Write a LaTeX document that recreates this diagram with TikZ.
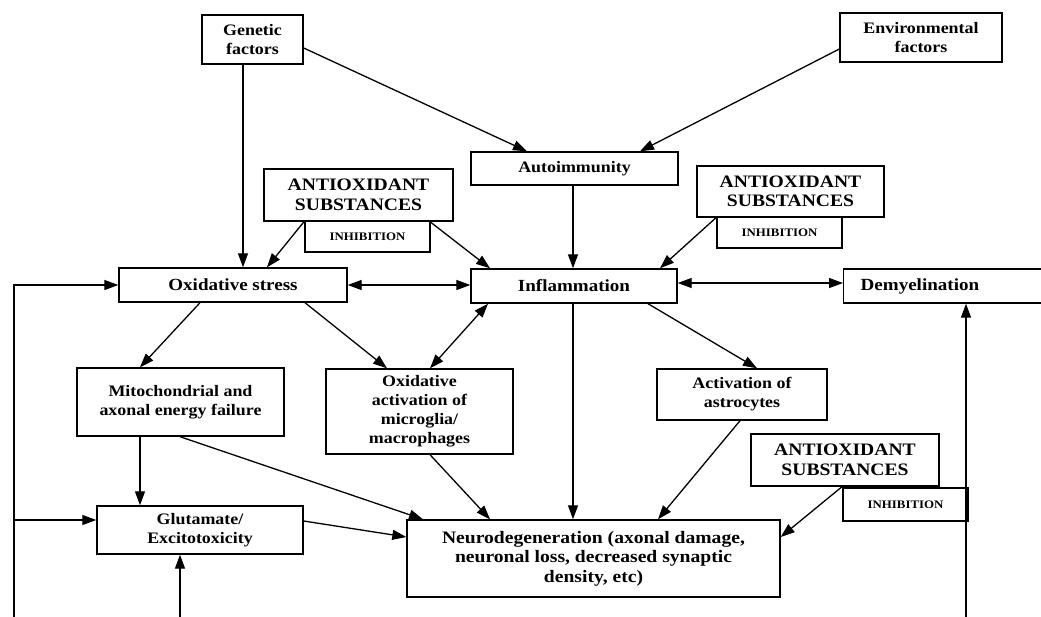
\documentclass[tikz,border=0pt]{standalone}
\usepackage{fontspec}
\setmainfont{Liberation Serif}[FakeStretch=1.12]
\usetikzlibrary{arrows.meta}
\tikzset{
  tri/.tip={Triangle[length=14pt,width=10pt]},
  sz/.style 2 args={minimum width=#1pt, minimum height=#2pt},
  box/.style={draw, line width=1.4pt, fill=white, align=center, inner sep=2pt,
    font=\bfseries\fontsize{16}{19}\selectfont},
  midbox/.style={box, font=\bfseries\fontsize{17}{19}\selectfont},
  bigbox/.style={box, font=\bfseries\fontsize{17.5}{19.5}\selectfont},
  smallbox/.style={box, font=\bfseries\fontsize{11.5}{13}\selectfont},
  link/.style={line width=1.3pt, -tri},
  twoway/.style={tri-tri},
}
\begin{document}
\begin{tikzpicture}[x=1pt,y=-1pt]
  \clip (0,0) rectangle (1041,616);
  \fill[white] (0,0) rectangle (1041,616);
  \path
    (252.5,39.5) node[box, sz={101}{49}] (gen) {Genetic\\factors}
    (921,37.5) node[box, sz={162}{49}] (env) {Environmental\\factors}
    (574.5,168.5) node[box, sz={207}{33}] (auto) {Autoimmunity}
    (358.5,195) node[bigbox, sz={189}{52}] (anti1) {ANTIOXIDANT\\SUBSTANCES}
    (367.5,236.5) node[smallbox, sz={125}{31}] (inh1) {INHIBITION}
    (790.5,191.5) node[bigbox, sz={187}{51}] (anti2) {ANTIOXIDANT\\SUBSTANCES}
    (779.5,232.5) node[smallbox, sz={125}{31}] (inh2) {INHIBITION}
    (233,285) node[midbox, sz={228}{34}] (oxs) {Oxidative stress}
    (574,286) node[midbox, sz={206}{34}] (infl) {Inflammation}
    (843,286) node[midbox, anchor=west, sz={224}{34}, text width=190pt, align=left, inner xsep=17pt] (demy) {Demyelination}
    (180.5,402) node[box, sz={207}{68}] (mito) {Mitochondrial and\\axonal energy failure}
    (419.5,411.5) node[box, sz={187}{85}] (oxact) {Oxidative\\activation of\\microglia/\\macrophages}
    (742,394.5) node[box, sz={170}{51}] (astro) {Activation of\\astrocytes}
    (845,460) node[bigbox, sz={188}{52}] (anti3) {ANTIOXIDANT\\SUBSTANCES}
    (905.5,504.5) node[smallbox, sz={125}{33}] (inh3) {INHIBITION}
    (200,530) node[box, sz={206}{48}] (glut) {Glutamate/\\Excitotoxicity}
    (593.5,558.5) node[bigbox, sz={373}{77}] (neuro) {Neurodegeneration (axonal damage,\\neuronal loss, decreased synaptic\\density, etc)};
  % feedback lines entering from below
  \coordinate (fbl) at (14,630);
  \coordinate (fbg) at (180,630);
  \coordinate (fbr) at (966,630);
  \begin{scope}[link]
    \draw (gen.south -| 243,0) to (oxs.north -| 243,0);
    \draw (gen.east |- 0,48) to (auto.north -| 527,0);
    \draw (env.west |- 0,49) to (auto.north -| 640,0);
    \draw (auto.south -| 573,0) to (infl.north -| 573,0);
    \draw (anti1.south -| 304,0) to (oxs.north -| 267,0);
    \draw (anti1.south -| 430,0) to (infl.north -| 490,0);
    \draw (anti2.south -| 716,0) to (infl.north -| 660,0);
    \draw[twoway] (oxs.east) to (oxs.east -| infl.west);
    \draw[twoway] (infl.east |- 0,283) to (demy.west |- 0,283);
    \draw (oxs.south -| 200,0) to (mito.north -| 140,0);
    \draw (oxs.south -| 305,0) to (oxact.north -| 387,0);
    \draw[twoway] (infl.south -| 488,0) to (oxact.north -| 430,0);
    \draw (infl.south -| 648,0) to (astro.north -| 757,0);
    \draw (infl.south -| 573,0) to (neuro.north -| 573,0);
    \draw (mito.south -| 140,0) to (glut.north -| 140,0);
    \draw (mito.south -| 180,0) to (neuro.north -| 423,0);
    \draw (glut.east |- 0,521) to (neuro.west |- 0,537);
    \draw (oxact.south -| 430,0) to (neuro.north -| 490,0);
    \draw (astro.south -| 740,0) to (neuro.north -| 658,0);
    \draw (anti3.south -| 842,0) to (neuro.east |- 0,537);
    \draw (fbl) |- (oxs.west);
    \draw (fbl |- 0,520) to (glut.west |- 0,520);
    \draw (fbg) to (fbg |- glut.south);
    \draw (fbr) to (fbr |- demy.south);
  \end{scope}
\end{tikzpicture}
\end{document}
